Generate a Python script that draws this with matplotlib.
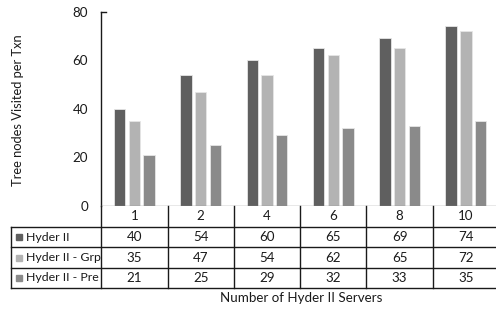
import matplotlib.pyplot as plt
import numpy as np

plt.rcParams['font.family'] = ['Lato', 'DejaVu Sans']

servers = ['1', '2', '4', '6', '8', '10']
series_names = ['Hyder II', 'Hyder II - Grp', 'Hyder II - Pre']
hyder = [40, 54, 60, 65, 69, 74]
hyder_grp = [35, 47, 54, 62, 65, 72]
hyder_pre = [21, 25, 29, 32, 33, 35]
colors = ['#5f5f5f', '#b3b3b3', '#8a8a8a']

W, H = 496, 309
fig = plt.figure(figsize=(W / 100, H / 100), dpi=100)
fs = 9.6
lc = '#1a1a1a'

# pixel layout of the Excel-style chart
x0, x1 = 101.3, 499.0
y_top, y_base = 11.7, 205.7
rows_y = [205.7, 227.3, 247.3, 267.7, 288.0]
left_px = 11.0

ax = fig.add_axes([x0 / W, 1 - y_base / H, (x1 - x0) / W, (y_base - y_top) / H])
x = np.arange(len(servers))
off = 0.222
bw = 0.172
for i, vals in enumerate([hyder, hyder_grp, hyder_pre]):
    ax.bar(x + (i - 1) * off, vals, bw, color=colors[i],
           edgecolor='#e6e6e6', linewidth=0.6, zorder=2)

ax.set_xlim(-0.5, len(servers) - 0.5)
ax.set_ylim(0, 80)
ax.set_yticks([0, 20, 40, 60, 80])
ax.tick_params(axis='y', length=0, labelsize=fs, pad=9.5, colors=lc)
ax.set_xticks([])
for s in ['top', 'right', 'bottom']:
    ax.spines[s].set_visible(False)
ax.spines['left'].set_color(lc)
ax.spines['left'].set_linewidth(1.0)
ax.axhline(0, color='#8c8c8c', lw=1.0, zorder=3)
ax.plot([-0.5, -0.43], [80, 80], color=lc, lw=1.0, clip_on=False)
fig.text(18 / W, 1 - 110 / H, 'Tree nodes Visited per Txn', rotation=90,
         ha='center', va='center', fontsize=9.3, color=lc)

# data table below the bars
tab = fig.add_axes([x0 / W, 1 - rows_y[-1] / H, (x1 - x0) / W, (rows_y[-1] - rows_y[0]) / H])
tab.set_xlim(-0.5, len(servers) - 0.5)
tab.set_ylim(rows_y[-1], rows_y[0])
tab.axis('off')
px = len(servers) / (x1 - x0)
xl = -0.5 - (x0 - left_px) * px
for yy in rows_y[1:]:
    tab.plot([xl, len(servers) - 0.5], [yy, yy], color=lc, lw=1.0, clip_on=False)
tab.plot([xl, xl], [rows_y[1], rows_y[-1]], color=lc, lw=1.0, clip_on=False)
for k in range(len(servers) + 1):
    tab.plot([k - 0.5, k - 0.5], [rows_y[0], rows_y[-1]], color=lc, lw=1.0, clip_on=False)

for k, s in enumerate(servers):
    tab.text(k, (rows_y[0] + rows_y[1]) / 2, s, ha='center', va='center', fontsize=fs, color=lc)
for r, vals in enumerate([hyder, hyder_grp, hyder_pre]):
    yc = (rows_y[r + 1] + rows_y[r + 2]) / 2
    for k, v in enumerate(vals):
        tab.text(k, yc, str(v), ha='center', va='center', fontsize=fs, color=lc)
    tab.plot(xl + 8 * px, yc, marker='s', ms=4.4, color=colors[r], mec=colors[r], clip_on=False)
    tab.text(xl + 15 * px, yc, series_names[r], ha='left', va='center', fontsize=8.9, color=lc)

fig.text(301 / W, 1 - 298 / H, 'Number of Hyder II Servers',
         ha='center', va='center', fontsize=fs, color=lc)

fig.savefig('out.png', dpi=100)
